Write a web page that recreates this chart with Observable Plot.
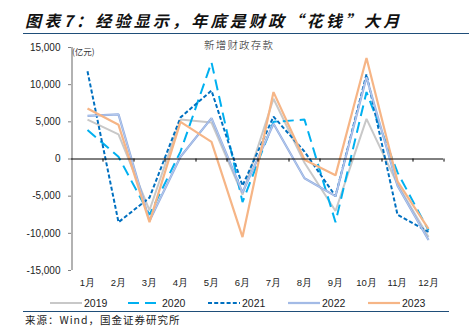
<!DOCTYPE html>
<html>
<head>
<meta charset="utf-8">
<script src="https://cdn.jsdelivr.net/npm/d3@7"></script>
<script src="https://cdn.jsdelivr.net/npm/@observablehq/plot@0.6"></script>
<style>
  body { margin: 0; background: #fff; }
  #wrap { position: relative; width: 469px; height: 328px; overflow: hidden; font-family: "Liberation Sans", Arial, sans-serif; }
  #chart { position: absolute; left: 0; top: 0; }
  .abs { position: absolute; white-space: nowrap; }
  #title { left: 25px; top: 8px; font-family: "Noto Sans CJK SC", sans-serif; font-weight: 700; font-style: italic; font-size: 16px; letter-spacing: 3.2px; color: #111; }
  #sub { left: 204px; top: 37px; font-family: "Noto Sans CJK SC", sans-serif; font-weight: 300; font-size: 10.5px; letter-spacing: 1.2px; color: #222; }
  #unit { left: 72px; top: 45px; font-family: "Noto Sans CJK SC", sans-serif; font-size: 8.5px; color: #333; }
  .hr { position: absolute; left: 23px; right: 0; height: 0; border-top: 1.6px solid #1f4e79; }
  #legend { left: 0; top: 296px; width: 469px; height: 14px; }
  #src { left: 25px; top: 313px; font-family: "Noto Sans CJK SC", sans-serif; font-size: 10.5px; line-height: 13px; color: #222; letter-spacing: 1px; }
</style>
</head>
<body>
<div id="wrap">
  <div id="chart"></div>
  <div class="abs" id="title">图表7：经验显示，年底是财政“花钱”大月</div>
  <div class="hr" style="top:33px"></div>
  <div class="abs" id="sub">新增财政存款</div>
  <div class="abs" id="unit">(亿元)</div>
  <div class="abs" id="legend"></div>
  <div class="hr" style="top:311px; right:20px"></div>
  <div class="abs" id="src">来源：Wind，国金证券研究所</div>
</div>
<script>
const months = ["1月","2月","3月","4月","5月","6月","7月","8月","9月","10月","11月","12月"];
const yTicks = [-15000, -10000, -5000, 0, 5000, 10000, 15000];
const years = ["2019","2020","2021","2022","2023"];
const v2019 = [5300, 3300, -6900, 5300, 4900, -4800, 8100, -500, -7000, 5400, -3400, -10500];
const v2020 = [3900, 300, -7500, 1000, 13000, -5800, 5000, 5300, -8500, 9000, -1800, -9600];
const v2021 = [11800, -8500, -5200, 5600, 9200, -3600, 5700, 1000, -5000, 11400, -7500, -9800];
const v2022 = [5800, 6000, -8300, 300, 5500, -4500, 4750, -2600, -5000, 11000, -3600, -10900];
const v2023 = [6800, 4600, -8500, 5000, 2300, -10500, 9000, -100, -2200, 13600, -3000, -9400];

const seriesValues = [v2019, v2020, v2021, v2022, v2023];
const styles = {
  "2019": {stroke: "#c8c8c8", strokeWidth: 2, dash: null},
  "2020": {stroke: "#00b0f0", strokeWidth: 2, dash: "11,6"},
  "2021": {stroke: "#0070c0", strokeWidth: 2, dash: "4,2.2"},
  "2022": {stroke: "#8fabdf", strokeWidth: 2.2, dash: null},
  "2023": {stroke: "#f6b586", strokeWidth: 2.2, dash: null}
};

const rows = years.map((yr, i) => months.map((m, j) => ({year: yr, month: m, value: seriesValues[i][j]})));

const lineMarks = [];
rows.forEach((data, i) => {
  const s = styles[years[i]];
  lineMarks.push(Plot.line(data, {x: "month", y: "value", stroke: s.stroke, strokeWidth: s.strokeWidth, strokeDasharray: s.dash, strokeLinejoin: "miter", strokeLinecap: "butt"}));
  if (years[i] === "2022") {
    lineMarks.push(Plot.line(data, {x: "month", y: "value", stroke: "#c9d8f3", strokeWidth: 0.7}));
  }
});

const chart = Plot.plot({
  width: 469,
  height: 328,
  marginTop: 47,
  marginBottom: 58,
  marginLeft: 71,
  marginRight: 26,
  style: {fontFamily: "'Liberation Sans', Arial, sans-serif", background: "transparent", color: "#222"},
  x: {type: "point", domain: months, padding: 0.5, label: null},
  y: {domain: [-15000, 15000], label: null},
  marks: [
    Plot.ruleX([months[0]], {y1: -15000, y2: 15000, dx: -15.5, stroke: "#7f7f7f", strokeWidth: 1.2}),
    Plot.axisY({ticks: yTicks, tickFormat: d => d.toLocaleString("en-US"), tickSize: 3, tickPadding: 8, fontSize: 10, stroke: "#7f7f7f", fill: "#222", label: null}),
    Plot.axisX({tickSize: 0, tickPadding: 9, fontSize: 9.5, fill: "#222", label: null}),
    ...lineMarks,
    Plot.ruleY([0], {stroke: "#000", strokeWidth: 1}),
    Plot.ruleX(months, {y1: 0, y2: -420, dx: 15.5, stroke: "#000"})
  ]
});
document.getElementById("chart").appendChild(chart);

// legend
const legendX = [50, 128, 208, 288, 368];
const ns = "http://www.w3.org/2000/svg";
const lsvg = document.createElementNS(ns, "svg");
lsvg.setAttribute("width", 469);
lsvg.setAttribute("height", 14);
years.forEach((yr, i) => {
  const s = styles[yr];
  const ln = document.createElementNS(ns, "line");
  ln.setAttribute("x1", legendX[i]); ln.setAttribute("x2", legendX[i] + 32);
  ln.setAttribute("y1", 7); ln.setAttribute("y2", 7);
  ln.setAttribute("stroke", s.stroke); ln.setAttribute("stroke-width", s.strokeWidth);
  if (s.dash) ln.setAttribute("stroke-dasharray", s.dash);
  lsvg.appendChild(ln);
  if (yr === "2022") {
    const l2 = ln.cloneNode(); l2.setAttribute("stroke", "#c9d8f3"); l2.setAttribute("stroke-width", 0.7); lsvg.appendChild(l2);
  }
  const t = document.createElementNS(ns, "text");
  t.setAttribute("x", legendX[i] + 34); t.setAttribute("y", 11);
  t.setAttribute("font-size", 10.5); t.setAttribute("fill", "#222");
  t.setAttribute("font-family", "'Liberation Sans', Arial, sans-serif");
  t.textContent = yr;
  lsvg.appendChild(t);
});
document.getElementById("legend").appendChild(lsvg);
</script>
</body>
</html>
